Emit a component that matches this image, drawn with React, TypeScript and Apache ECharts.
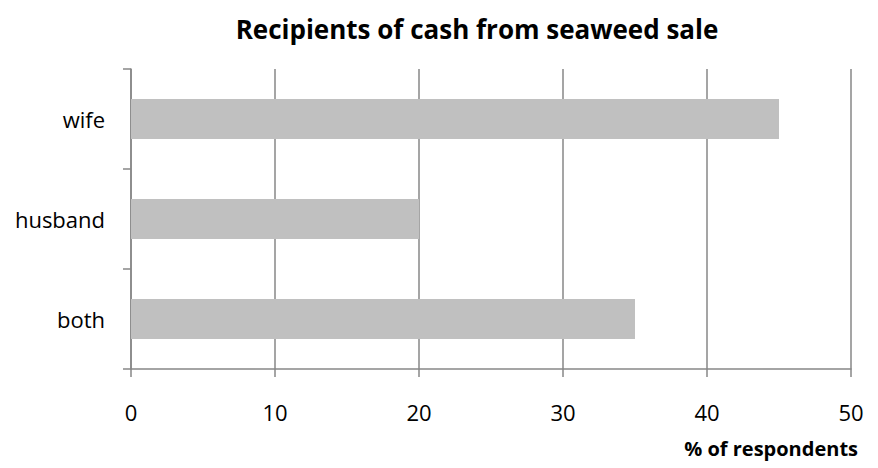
import React, { useEffect, useRef } from "react";
import * as echarts from "echarts";

const categories = ["both", "husband", "wife"];
const values = [35, 20, 45];
const xTicks = { min: 0, max: 50, interval: 10 };

const FONT = "'Open Sans', 'Noto Sans', sans-serif";
const GRID_COLOR = "#878787";

export default function App() {
  const ref = useRef<HTMLDivElement>(null);

  useEffect(() => {
    if (!ref.current) return;
    const chart = echarts.init(ref.current, null, { renderer: "svg" });
    chart.setOption({
      animation: false,
      backgroundColor: "#ffffff",
      title: {
        text: "Recipients of cash from seaweed sale",
        left: 472,
        textAlign: "center",
        top: 11,
        textStyle: { fontFamily: FONT, fontSize: 26, fontWeight: "bold", color: "#000" },
      },
      grid: { left: 131, right: 27, top: 69, bottom: 99, containLabel: false },
      xAxis: {
        type: "value",
        min: xTicks.min,
        max: xTicks.max,
        interval: xTicks.interval,
        axisLine: { show: true, lineStyle: { color: GRID_COLOR, width: 1.5 } },
        axisTick: { show: true, length: 8, lineStyle: { color: GRID_COLOR, width: 1.5 } },
        splitLine: { show: true, lineStyle: { color: GRID_COLOR, width: 1.5 } },
        axisLabel: { margin: 32, fontFamily: FONT, fontSize: 22, color: "#000" },
      },
      yAxis: {
        type: "category",
        data: categories,
        axisLine: { show: true, lineStyle: { color: GRID_COLOR, width: 1.5 } },
        axisTick: { show: true, length: 8, lineStyle: { color: GRID_COLOR, width: 1.5 } },
        axisLabel: { margin: 26, fontFamily: FONT, fontSize: 22, color: "#000" },
      },
      series: [
        {
          type: "bar",
          data: values,
          barCategoryGap: "60%",
          itemStyle: { color: "#c0c0c0" },
        },
      ],
      graphic: [
        {
          type: "text",
          right: 20,
          top: 438,
          style: {
            text: "% of respondents",
            fontFamily: FONT,
            fontSize: 20,
            fontWeight: "bold",
            fill: "#000",
          },
        },
      ],
    });
    return () => chart.dispose();
  }, []);

  return (
    <div
      ref={ref}
      style={{ position: "absolute", left: 0, top: 0, width: 878, height: 468 }}
    />
  );
}
